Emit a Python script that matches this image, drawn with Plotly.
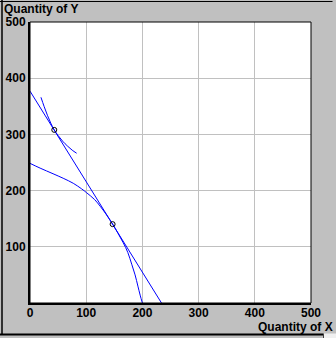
import plotly.graph_objects as go

# ---- data ----
budget_x = [0, 234]
budget_y = [377, 0]

ic_x = [19.5, 25, 31, 37, 43.2, 50, 58, 67, 75, 83]
ic_y = [366, 350, 334, 320, 308, 298, 288, 279, 272, 266.5]

ppf_x = [0, 18, 41, 59, 77, 92, 101, 115, 125, 135, 147, 157, 166, 174, 181, 187, 192, 196, 200]
ppf_y = [248.5, 240, 230, 222, 213, 203, 196, 184, 172, 158.5, 140.3, 123.3, 107, 90, 69, 50, 30, 14, 0]

point_x = [43.2, 147]
point_y = [308, 140.3]

x_ticks = [0, 100, 200, 300, 400, 500]
y_ticks = [100, 200, 300, 400, 500]

BLUE = "#0000ff"
GRAY = "#c0c0c0"
FONT = dict(family="Liberation Sans, Arial, sans-serif", size=12, color="black", weight="bold")

fig = go.Figure()
fig.add_trace(go.Scatter(x=budget_x, y=budget_y, mode="lines",
                         line=dict(color=BLUE, width=1), hoverinfo="skip"))
fig.add_trace(go.Scatter(x=ic_x, y=ic_y, mode="lines",
                         line=dict(color=BLUE, width=1, shape="spline"), hoverinfo="skip"))
fig.add_trace(go.Scatter(x=ppf_x, y=ppf_y, mode="lines",
                         line=dict(color=BLUE, width=1, shape="spline"), hoverinfo="skip"))
fig.add_trace(go.Scatter(x=point_x, y=point_y, mode="markers",
                         marker=dict(symbol="circle-open", size=5, color="black",
                                     line=dict(width=1, color="black")),
                         hoverinfo="skip"))

fig.update_layout(
    width=336, height=338, autosize=False,
    margin=dict(l=30, r=25, t=22, b=35, pad=0, autoexpand=False),
    paper_bgcolor=GRAY, plot_bgcolor="white",
    showlegend=False,
    font=FONT,
    xaxis=dict(range=[0, 500], tickvals=x_ticks, ticktext=[str(v) for v in x_ticks],
               showgrid=True, gridcolor=GRAY, gridwidth=1, zeroline=False,
               showline=True, linecolor="black", linewidth=2, ticks="",
               tickfont=FONT, fixedrange=True, ticklabelstandoff=-2, automargin=False),
    yaxis=dict(range=[0, 500], tickvals=y_ticks, ticktext=[str(v) for v in y_ticks],
               showgrid=True, gridcolor=GRAY, gridwidth=1, zeroline=False,
               showline=True, linecolor="black", linewidth=2, ticks="",
               tickfont=FONT, fixedrange=True, ticklabelstandoff=0, automargin=False),
)

# plot-area border (top / right thin black)
fig.add_shape(type="rect", xref="paper", yref="paper", x0=0, x1=1, y0=0, y1=1,
              line=dict(color="black", width=1), layer="above")

# outer window frame lines
def px_x(p):
    return (p - 30) / 281.0

def px_y(p):
    return (303 - p) / 281.0

fig.add_shape(type="line", xref="paper", yref="paper",
              x0=px_x(0), x1=px_x(332.5), y0=px_y(1.5), y1=px_y(1.5),
              line=dict(color="black", width=1))
fig.add_shape(type="line", xref="paper", yref="paper",
              x0=px_x(2), x1=px_x(2), y0=px_y(0), y1=px_y(335),
              line=dict(color="black", width=1.5))
fig.add_shape(type="line", xref="paper", yref="paper",
              x0=px_x(0), x1=px_x(323), y0=px_y(334.5), y1=px_y(334.5),
              line=dict(color="black", width=2))
# small light block at bottom-right corner
fig.add_shape(type="rect", xref="paper", yref="paper",
              x0=px_x(323.5), x1=px_x(337), y0=px_y(333.5), y1=px_y(339),
              fillcolor="#f0f0f0", line=dict(width=0))
fig.add_shape(type="line", xref="paper", yref="paper",
              x0=px_x(323.5), x1=px_x(323.5), y0=px_y(333.5), y1=px_y(339),
              line=dict(color="#404040", width=1))

fig.add_annotation(text="Quantity of Y", xref="paper", yref="paper",
                   x=px_x(3), y=px_y(1), xanchor="left", yanchor="top",
                   showarrow=False, font=FONT, borderpad=0)
fig.add_annotation(text="Quantity of X", xref="paper", yref="paper",
                   x=px_x(334), y=px_y(318.5), xanchor="right", yanchor="top",
                   showarrow=False, font=FONT, borderpad=0)

fig.write_html("out.html", config={"displayModeBar": False},
               post_script="document.body.style.margin='0px';document.body.style.overflow='hidden';")
